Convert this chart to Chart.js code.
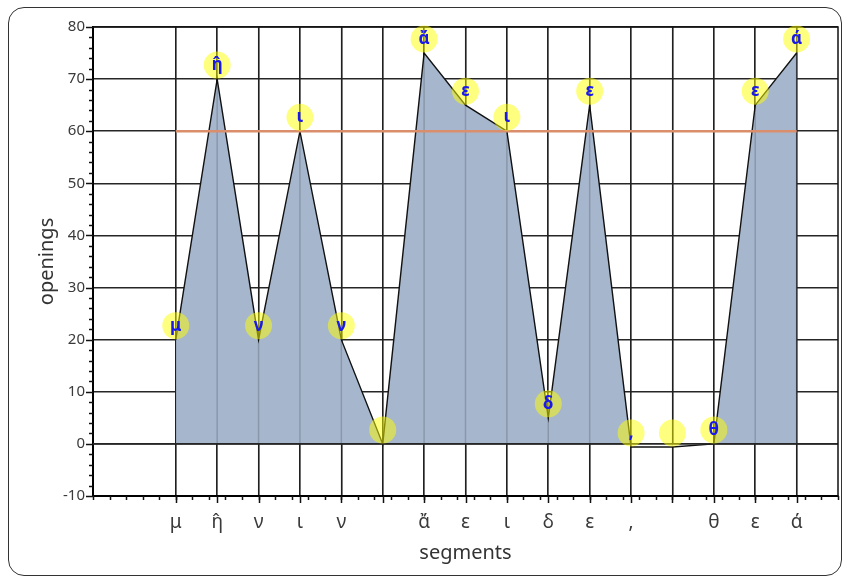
<!DOCTYPE html>
<html>
<head>
<meta charset="utf-8">
<script src="https://cdn.jsdelivr.net/npm/chart.js@4/dist/chart.umd.min.js"></script>
<style>
  html, body { margin: 0; padding: 0; background: #fff; }
  #wrap { position: relative; width: 847px; height: 580px; }
  #frame { position: absolute; left: 8px; top: 7px; width: 834px; height: 569px;
           border: 1.5px solid #333; border-radius: 16px; box-sizing: border-box; }
  canvas { position: absolute; left: 0; top: 0; }
</style>
</head>
<body>
<div id="wrap">
  <div id="frame"></div>
  <canvas id="c" width="847" height="580"></canvas>
</div>
<script>
// Letters of the opening words, one per segment
const categories = ['μ', 'η̂', 'ν', 'ι', 'ν', ' ', 'ἄ', 'ε', 'ι', 'δ', 'ε', ',', ' ', 'θ', 'ε', 'ά'];
// Openings per segment
const openings = [20, 70, 20, 60, 20, 0, 75, 65, 60, 5, 65, -0.6, -0.6, 0, 65, 75];
// Reference level
const threshold = 60;
// Value-axis range and step
const yMin = -10, yMax = 80, yStep = 10;
// Segment-axis range
const xMin = -2, xMax = 16;

const FONT = "'Noto Sans', 'DejaVu Sans', sans-serif";
const GRID = '#262626';

const areaPoints = openings.map((v, i) => ({ x: i, y: v }));
const thresholdPoints = [{ x: 0, y: threshold }, { x: categories.length - 1, y: threshold }];

// Draws the faint segment lines over the filled area and the zero line
const areaOverlay = {
  id: 'areaOverlay',
  afterDatasetDraw(chart, args) {
    if (args.index !== 0) return;
    const { ctx, chartArea: a, scales: { x, y } } = chart;
    ctx.save();
    ctx.strokeStyle = 'rgba(0,0,0,0.17)';
    ctx.lineWidth = 1.5;
    categories.forEach((c, i) => {
      const px = x.getPixelForValue(i);
      ctx.beginPath(); ctx.moveTo(px, a.top); ctx.lineTo(px, a.bottom); ctx.stroke();
    });
    const zy = y.getPixelForValue(0);
    ctx.strokeStyle = GRID;
    ctx.lineWidth = 1.6;
    ctx.beginPath(); ctx.moveTo(a.left, zy); ctx.lineTo(a.right, zy); ctx.stroke();
    ctx.restore();
  }
};

// Frame, tick marks and letter badges
const decorations = {
  id: 'decorations',
  afterDatasetsDraw(chart) {
    const { ctx, chartArea: a, scales: { x, y } } = chart;
    ctx.save();
    // top and right frame
    ctx.strokeStyle = '#111';
    ctx.lineWidth = 1.5;
    ctx.beginPath();
    ctx.moveTo(a.left, a.top); ctx.lineTo(a.right, a.top); ctx.lineTo(a.right, a.bottom);
    ctx.stroke();

    // tick marks on the value axis
    ctx.strokeStyle = '#111';
    ctx.lineWidth = 1.5;
    const ySteps = Math.round((yMax - yMin) / 2);
    for (let k = 0; k <= ySteps; k++) {
      const v = yMin + k * 2;
      const py = Math.round(y.getPixelForValue(v)) + 0.5;
      const len = (v % yStep === 0) ? 7 : 4;
      ctx.beginPath(); ctx.moveTo(a.left - len, py); ctx.lineTo(a.left, py); ctx.stroke();
    }
    // tick marks on the segment axis
    const xSteps = Math.round((xMax - xMin) / 0.4);
    for (let k = 0; k <= xSteps; k++) {
      const v = xMin + k * 0.4;
      const px = Math.round(x.getPixelForValue(v)) + 0.5;
      ctx.beginPath(); ctx.moveTo(px, a.bottom); ctx.lineTo(px, a.bottom + 4); ctx.stroke();
    }
    for (let i = 0; i < categories.length; i++) {
      const px = Math.round(x.getPixelForValue(i)) + 0.5;
      ctx.beginPath(); ctx.moveTo(px, a.bottom); ctx.lineTo(px, a.bottom + 7); ctx.stroke();
    }

    // letter badges above each point
    const meta = chart.getDatasetMeta(0);
    ctx.textAlign = 'center';
    ctx.textBaseline = 'middle';
    ctx.font = 'bold 17px ' + FONT;
    meta.data.forEach((pt, i) => {
      const cx = pt.x, cy = pt.y - 14;
      ctx.fillStyle = 'rgba(255,255,0,0.5)';
      ctx.beginPath(); ctx.arc(cx, cy, 13.5, 0, Math.PI * 2); ctx.fill();
      ctx.fillStyle = 'rgb(25,25,235)';
      ctx.fillText(categories[i].trim(), cx, cy);
    });
    ctx.restore();
  }
};

new Chart(document.getElementById('c'), {
  type: 'line',
  data: {
    datasets: [
      {
        label: 'openings',
        data: areaPoints,
        order: 2,
        borderColor: '#111',
        borderWidth: 1.4,
        backgroundColor: 'rgb(166,182,204)',
        fill: { target: 'origin', above: 'rgb(166,182,204)', below: '#ffffff' },
        pointRadius: 0,
        tension: 0
      },
      {
        label: 'threshold',
        data: thresholdPoints,
        order: 1,
        borderColor: 'rgb(218,142,108)',
        borderWidth: 2.5,
        pointRadius: 0,
        fill: false
      }
    ]
  },
  options: {
    responsive: false,
    animation: false,
    layout: { padding: { top: 27, right: 9, left: 0, bottom: 0 } },
    plugins: { legend: { display: false }, tooltip: { enabled: false } },
    scales: {
      x: {
        type: 'linear',
        min: xMin, max: xMax,
        afterBuildTicks(s) { s.ticks = categories.map((c, i) => ({ value: i })); },
        afterFit(s) { s.height = 84; },
        ticks: {
          autoSkip: false,
          maxRotation: 0,
          padding: 15,
          color: '#3a3a3a',
          font: { family: FONT, size: 19 },
          callback: (v) => categories[v] !== undefined ? categories[v] : ''
        },
        grid: { color: GRID, lineWidth: 1.6, drawTicks: false },
        border: { color: '#000', width: 2 },
        title: { display: true, text: 'segments', color: '#333',
                 font: { family: FONT, size: 20 }, padding: { top: 0, bottom: 15 } }
      },
      y: {
        min: yMin, max: yMax,
        afterFit(s) { s.width = 93; },
        ticks: { stepSize: yStep, padding: 8, color: '#3a3a3a', font: { family: FONT, size: 15 } },
        grid: { color: GRID, lineWidth: 1.6, drawTicks: false },
        border: { color: '#000', width: 2 },
        title: { display: true, text: 'openings', color: '#333',
                 font: { family: FONT, size: 20 }, padding: { top: 35, bottom: 0 } }
      }
    }
  },
  plugins: [areaOverlay, decorations]
});
</script>
</body>
</html>
